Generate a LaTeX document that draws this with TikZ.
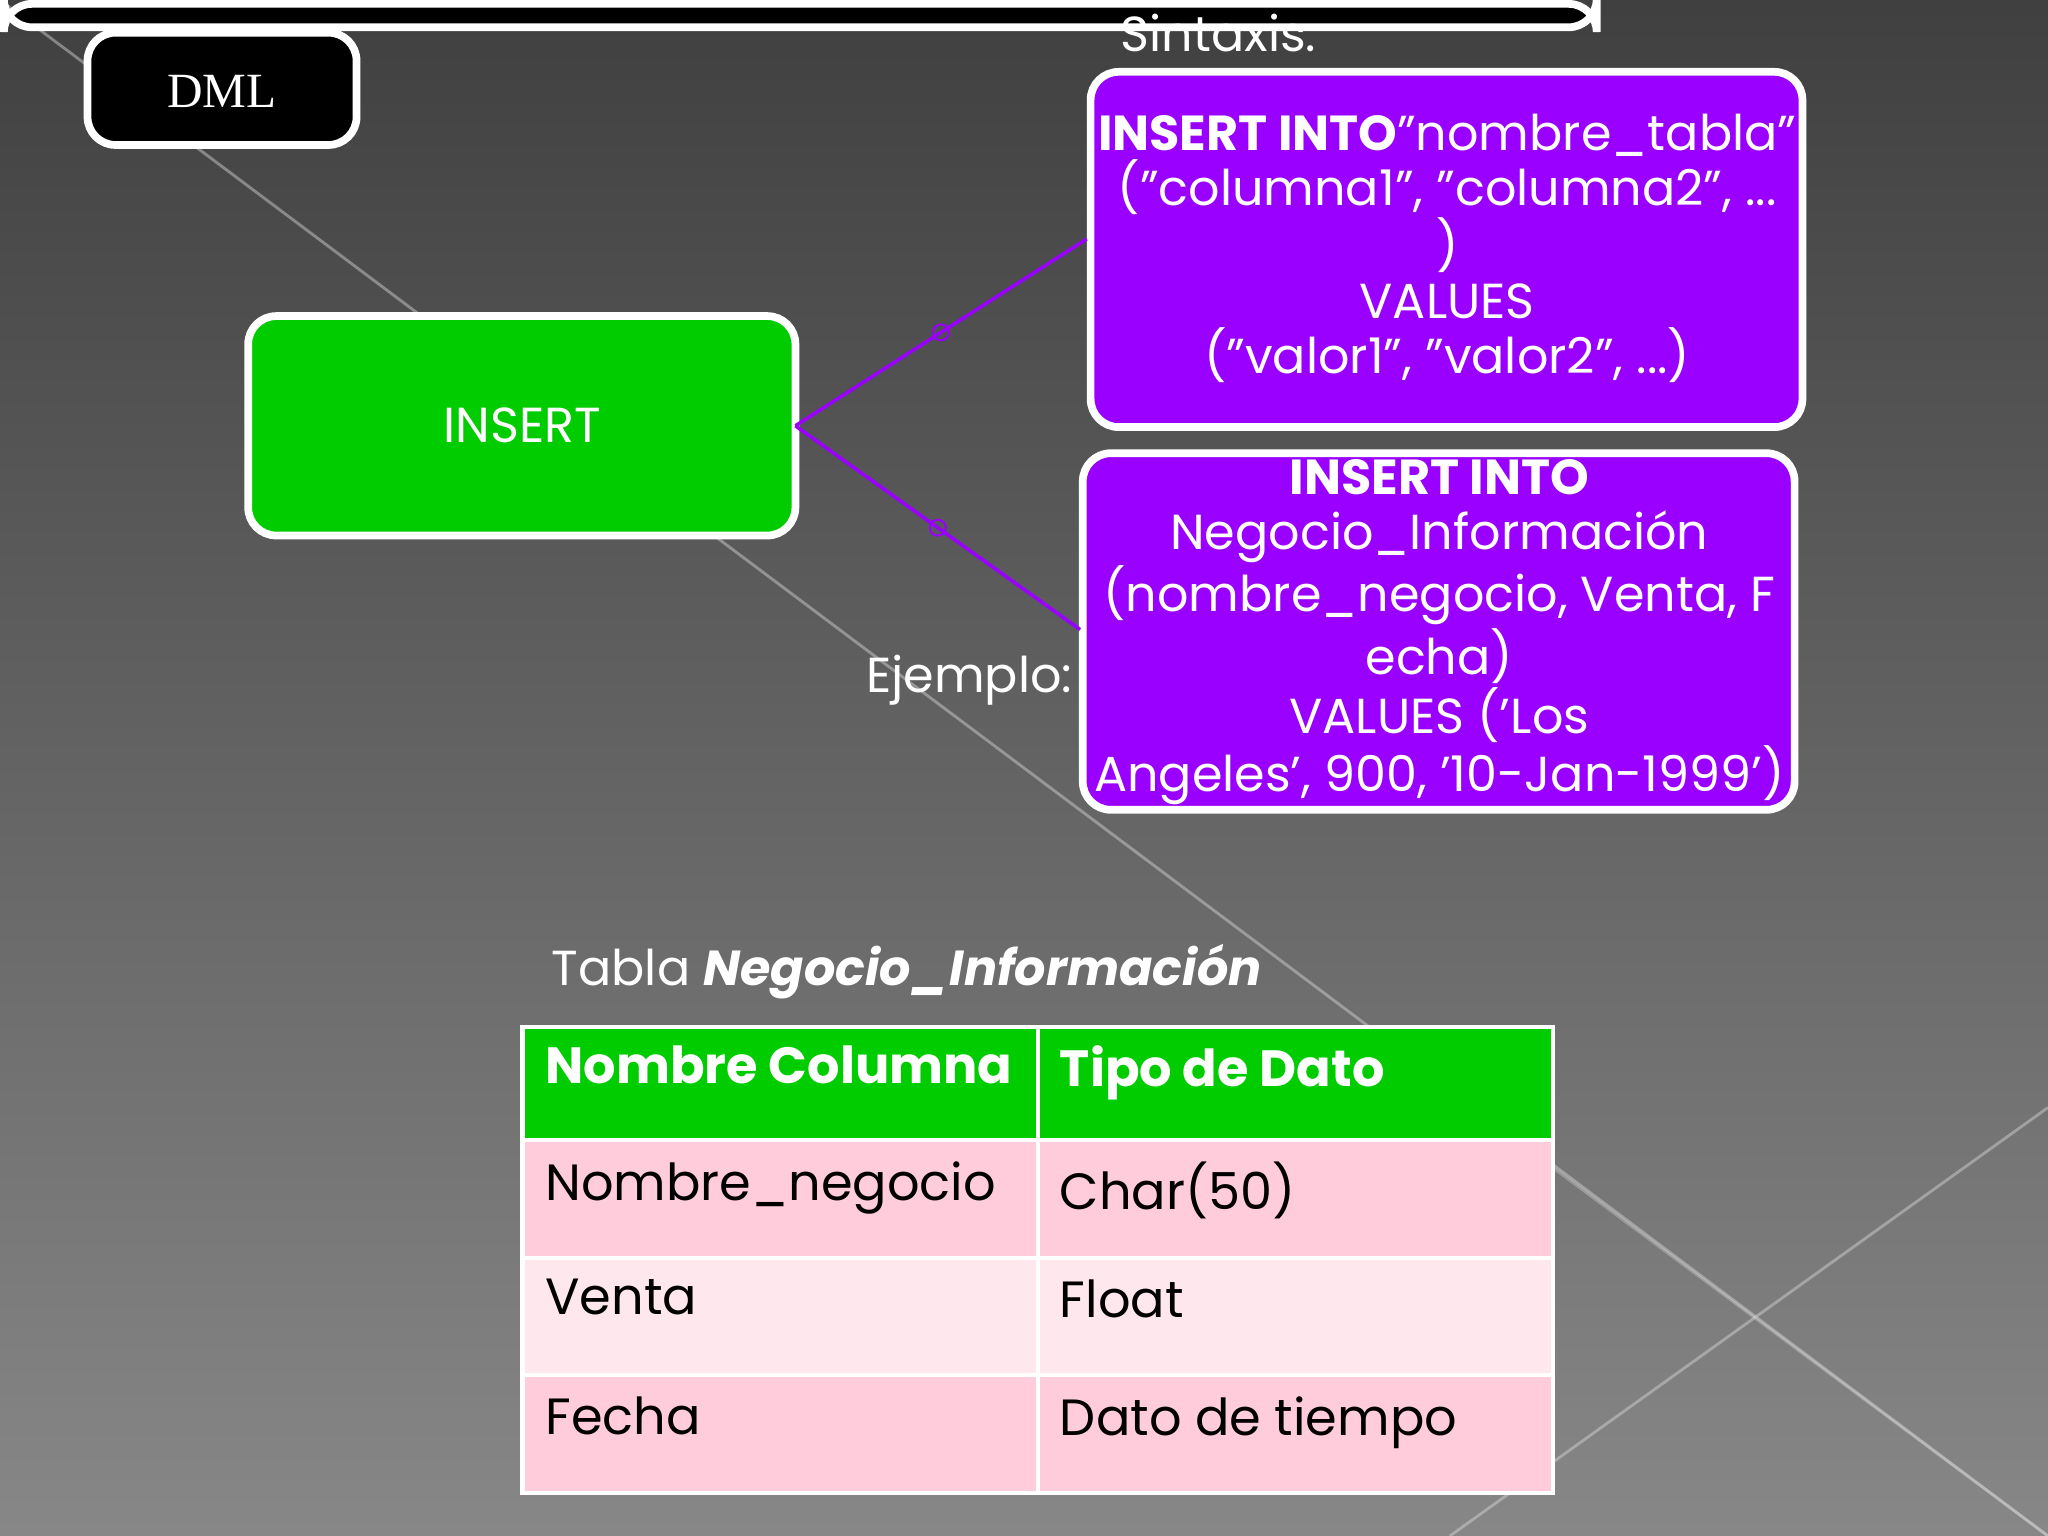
\documentclass[tikz,border=0pt]{standalone}
\usepackage{fontspec}
\setmainfont{Poppins}
\newfontfamily\serifdml{Liberation Serif}
\begin{document}
\begin{tikzpicture}[x=0.01306cm,y=-0.01306cm,
  rbox/.style={draw=white,line width=2.2pt,rounded corners=8pt},
  wtxt/.style={text=white,align=center},
  cell/.style={anchor=north west,inner sep=0pt,font=\fontsize{14.5}{16}\selectfont}]
\definecolor{gbg}{HTML}{00CC00}
\definecolor{purp}{HTML}{9900FF}
\definecolor{pinka}{HTML}{FFCCDB}
\definecolor{pinkb}{HTML}{FFE7EE}
\shade[top color=black!75,bottom color=black!47] (0,0) rectangle (1568,1176);
\useasboundingbox (0,0) rectangle (1568,1176);
\draw[white!70!gray,opacity=0.45,line width=0.8pt] (0,0) -- (1568,1176);
\draw[white!70!gray,opacity=0.45,line width=0.8pt] (1568,848) -- (1110,1176);
\draw[white!70!gray,opacity=0.35,line width=0.8pt] (1170,880) -- (1568,1176);
% DML
\node[rbox,fill=black,minimum width=206\pgflinewidth,anchor=north west] (dml) at (0,0) {};
\path[rbox,fill=black] (67,25) rectangle (273,111);
\node[text=white,font=\serifdml\fontsize{14}{16}\selectfont] (dmlt) at (170,70) {DML};
% INSERT
\path[rbox,fill=gbg] (190,242) rectangle (609,410);
\node[wtxt,font=\fontsize{14}{16}\selectfont] (ins) at (400,326) {INSERT};
\coordinate (insR) at (609,326);
% purple boxes
\path[rbox,fill=purp] (835,55) rectangle (1380,327);
\node[wtxt,font=\fontsize{14}{15.6}\selectfont] (syn) at (1108,190) {\textbf{INSERT INTO}"nombre\_tabla"\\("columna1", "columna2", ...\\)\\VALUES\\("valor1", "valor2", ...)};
\path[rbox,fill=purp] (829,347) rectangle (1374,620);
\node[wtxt,font=\fontsize{14}{15.6}\selectfont] (ej) at (1102,484) {\textbf{INSERT INTO}\\Negocio\_Información\\(nombre\_negocio, Venta, F\\echa)\\VALUES ('Los\\Angeles', 900, '10-Jan-1999')};
\coordinate (synL) at (832,183);
\coordinate (ejL) at (827,482);
\draw[purp,line width=1pt] (insR) -- node[circle,draw,inner sep=1.6pt,line width=0.6pt]{} (synL);
\draw[purp,line width=1pt] (insR) -- node[circle,draw,inner sep=1.6pt,line width=0.6pt]{} (ejL);
\node[text=white,font=\fontsize{14}{16}\selectfont] (sl) at (933,25) {Sintaxis:};
\node[text=white,font=\fontsize{14}{16}\selectfont] (el) at (742,521) {Ejemplo:};
% table
\node[anchor=west,text=white,font=\fontsize{14}{16}\selectfont] (tt) at (413,744) {Tabla \textbf{\textit{Negocio\_Información}}};
\fill[gbg] (400,786) rectangle (1189,873);
\fill[pinka] (400,873) rectangle (1189,963);
\fill[pinkb] (400,963) rectangle (1189,1053);
\fill[pinka] (400,1053) rectangle (1189,1143);
\draw[white,line width=1.2pt] (400,786) rectangle (1189,1143)
  (795,786) -- (795,1143) (400,873) -- (1189,873) (400,963) -- (1189,963) (400,1053) -- (1189,1053);
\node[cell,text=white,font=\bfseries\fontsize{14.5}{16}\selectfont] (h1) at (417,800) {Nombre Columna};
\node[cell,text=white,font=\bfseries\fontsize{14.5}{16}\selectfont] (h2) at (811,800) {Tipo de Dato};
\node[cell] (a1) at (417,889) {Nombre\_negocio};
\node[cell] (b1) at (811,889) {Char(50)};
\node[cell] (a2) at (417,979) {Venta};
\node[cell] (b2) at (811,979) {Float};
\node[cell] (a3) at (417,1069) {Fecha};
\node[cell] (b3) at (811,1069) {Dato de tiempo};
\end{tikzpicture}
\end{document}
